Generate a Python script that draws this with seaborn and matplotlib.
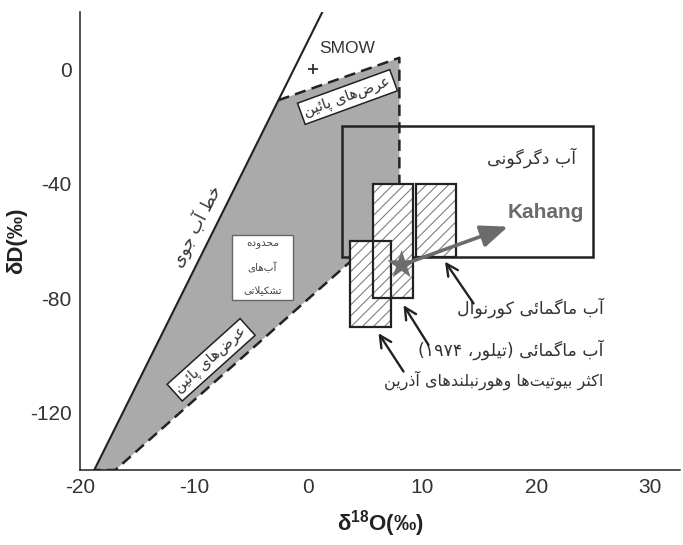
import re
import numpy as np
import pandas as pd
import seaborn as sns
import matplotlib.pyplot as plt
from matplotlib.patches import Rectangle, Polygon

# Meteoric water line (dD = 8 d18O + 10)
mwl_d18o = [-18.75, 1.25]
mwl_dd = [-140, 20]

# Formation-water field (grey area)
field_d18o = [-18.75, -2.6, 8.0, 8.0, -16.9]
field_dd = [-140, -10.8, 4.0, -52.0, -140]

# Boxes as [d18O min, d18O max, dD min, dD max]
metamorphic_box = [3.0, 25.0, -65.5, -20.0]
taylor_box = [5.7, 9.2, -80.0, -40.0]
cornwall_box = [9.5, 13.0, -65.5, -40.0]
biotite_box = [3.7, 7.3, -90.0, -60.0]
formation_box = [-6.7, -1.3, -80.6, -57.9]

# Points
kahang_d18o = [8.2]
kahang_dd = [-68.4]
smow_d18o = [0.4]
smow_dd = [0.0]

x_ticks = [-20, -10, 0, 10, 20, 30]
y_ticks = [-120, -80, -40, 0]

# Persian labels (logical order)
lbl_mwl = 'خط آب جوی'
lbl_lowlat = 'عرض\u200cهای پائین'
lbl_formation = ['محدوده', 'آب\u200cهای', 'تشکیلاتی']
lbl_metamorphic = 'آب دگرگونی'
lbl_cornwall = 'آب ماگمائی کورنوال'
lbl_taylor = 'آب ماگمائی (تیلور، ۱۹۷۴)'
lbl_biotite = 'اکثر بیوتیت\u200cها وهورنبلندهای آذرین'

# matplotlib has no Arabic shaping, so pick presentation forms by hand
# (isolated, final, initial, medial)
FORMS = {
    '\u0622': ('\uFE81', '\uFE82', None, None),
    '\u0627': ('\uFE8D', '\uFE8E', None, None),
    '\u0626': ('\uFE89', '\uFE8A', '\uFE8B', '\uFE8C'),
    '\u0628': ('\uFE8F', '\uFE90', '\uFE91', '\uFE92'),
    '\u067E': ('\uFB56', '\uFB57', '\uFB58', '\uFB59'),
    '\u062A': ('\uFE95', '\uFE96', '\uFE97', '\uFE98'),
    '\u062B': ('\uFE99', '\uFE9A', '\uFE9B', '\uFE9C'),
    '\u062C': ('\uFE9D', '\uFE9E', '\uFE9F', '\uFEA0'),
    '\u062D': ('\uFEA1', '\uFEA2', '\uFEA3', '\uFEA4'),
    '\u062E': ('\uFEA5', '\uFEA6', '\uFEA7', '\uFEA8'),
    '\u062F': ('\uFEA9', '\uFEAA', None, None),
    '\u0630': ('\uFEAB', '\uFEAC', None, None),
    '\u0631': ('\uFEAD', '\uFEAE', None, None),
    '\u0632': ('\uFEAF', '\uFEB0', None, None),
    '\u0633': ('\uFEB1', '\uFEB2', '\uFEB3', '\uFEB4'),
    '\u0634': ('\uFEB5', '\uFEB6', '\uFEB7', '\uFEB8'),
    '\u0636': ('\uFEBD', '\uFEBE', '\uFEBF', '\uFEC0'),
    '\u0637': ('\uFEC1', '\uFEC2', '\uFEC3', '\uFEC4'),
    '\u0639': ('\uFEC9', '\uFECA', '\uFECB', '\uFECC'),
    '\u06A9': ('\uFB8E', '\uFB8F', '\uFB90', '\uFB91'),
    '\u06AF': ('\uFB92', '\uFB93', '\uFB94', '\uFB95'),
    '\u0644': ('\uFEDD', '\uFEDE', '\uFEDF', '\uFEE0'),
    '\u0645': ('\uFEE1', '\uFEE2', '\uFEE3', '\uFEE4'),
    '\u0646': ('\uFEE5', '\uFEE6', '\uFEE7', '\uFEE8'),
    '\u0647': ('\uFEE9', '\uFEEA', '\uFEEB', '\uFEEC'),
    '\u0648': ('\uFEED', '\uFEEE', None, None),
    '\u06CC': ('\uFBFC', '\uFBFD', '\uFBFE', '\uFBFF'),
}


def links_forward(c):
    return c in FORMS and FORMS[c][2] is not None


def fa(text):
    out = []
    n = len(text)
    i = 0
    while i < n:
        c = text[i]
        if c not in FORMS:
            if c != '\u200c':
                out.append(c)
            i += 1
            continue
        prev_link = i > 0 and links_forward(text[i - 1])
        if c == '\u0644' and i + 1 < n and text[i + 1] in ('\u0627', '\u0622'):
            lig = ('\uFEFB', '\uFEFC') if text[i + 1] == '\u0627' else ('\uFEF5', '\uFEF6')
            out.append(lig[1] if prev_link else lig[0])
            i += 2
            continue
        next_link = links_forward(c) and i + 1 < n and text[i + 1] in FORMS
        iso, fin, ini, med = FORMS[c]
        if prev_link and next_link:
            out.append(med)
        elif prev_link:
            out.append(fin)
        elif next_link:
            out.append(ini)
        else:
            out.append(iso)
        i += 1
    vis = ''.join(out)[::-1]
    vis = re.sub('[\u06F0-\u06F90-9]+', lambda m: m.group(0)[::-1], vis)
    return vis.translate(str.maketrans('()', ')('))


sns.set_theme(style='white')
plt.rcParams['font.family'] = ['Liberation Sans', 'DejaVu Sans']
plt.rcParams['mathtext.fontset'] = 'custom'
plt.rcParams['mathtext.rm'] = 'Liberation Sans'
plt.rcParams['mathtext.bf'] = 'Liberation Sans:bold'
plt.rcParams['hatch.linewidth'] = 0.8
plt.rcParams['axes.unicode_minus'] = False

FA = 'DejaVu Sans'
dark = '#222222'

fig = plt.figure(figsize=(6.83, 5.45), dpi=100)
ax = fig.add_axes([0.1171, 0.1376, 0.8785, 0.8404])

# grey field + dashed borders
ax.add_patch(Polygon(list(zip(field_d18o, field_dd)), closed=True, fc='#aaaaaa', ec='none', zorder=1))
sns.lineplot(x=field_d18o[1:] + field_d18o[:1], y=field_dd[1:] + field_dd[:1], sort=False, estimator=None,
             color=dark, lw=1.8, linestyle=(0, (4.5, 2.5)), zorder=2, ax=ax)
sns.lineplot(x=mwl_d18o, y=mwl_dd, sort=False, estimator=None, color=dark, lw=1.5, zorder=2, ax=ax)

# metamorphic water box
x0, x1, y0, y1 = metamorphic_box
ax.add_patch(Rectangle((x0, y0), x1 - x0, y1 - y0, fill=False, ec=dark, lw=1.8, zorder=3))

# hatched magmatic boxes
for b in [taylor_box, cornwall_box, biotite_box]:
    x0, x1, y0, y1 = b
    ax.add_patch(Rectangle((x0, y0), x1 - x0, y1 - y0, fc='white', ec='#808080', hatch='///', lw=0, zorder=4))
for b in [taylor_box, cornwall_box, biotite_box]:
    x0, x1, y0, y1 = b
    ax.add_patch(Rectangle((x0, y0), x1 - x0, y1 - y0, fill=False, ec=dark, lw=1.6, zorder=5))

# formation waters label box
x0, x1, y0, y1 = formation_box
ax.add_patch(Rectangle((x0, y0), x1 - x0, y1 - y0, fc='white', ec='#666666', lw=1.0, zorder=3))
for txt, yy in zip(lbl_formation, [-61.0, -69.3, -77.2]):
    ax.text((x0 + x1) / 2, yy, fa(txt), ha='center', va='center', fontsize=7.5, color='#444444',
            family=FA, zorder=6)

# Kahang star + arrow
sns.scatterplot(x=kahang_d18o, y=kahang_dd, marker='*', s=480, color='#6e6e6e', edgecolor='none',
                zorder=7, ax=ax)
ax.annotate('Kahang', xy=(kahang_d18o[0], kahang_dd[0]), xytext=(17.5, -50.2), ha='left', va='center',
            fontsize=15, fontweight='bold', color='#6b6b6b', zorder=8,
            arrowprops=dict(arrowstyle='<|-,head_length=1.1,head_width=0.45', color='#6b6b6b', lw=2.6,
                            shrinkA=2, shrinkB=0))

# SMOW
sns.scatterplot(x=smow_d18o, y=smow_dd, marker='+', s=60, color='#333333', linewidth=1.3, ax=ax, zorder=6)
ax.text(3.4, 7.2, 'SMOW', ha='center', va='center', fontsize=12.5, color='#333333')

# Persian labels
ax.text(-9.8, -54.8, fa(lbl_mwl), rotation=63, ha='center', va='center', fontsize=12, color='#333333', family=FA)
box_kw = dict(boxstyle='square,pad=0.25', fc='white', ec=dark, lw=1.1)
ax.text(3.45, -9.7, fa(lbl_lowlat), rotation=20, ha='center', va='center', fontsize=10.5, color='#333333',
        family=FA, bbox=box_kw, zorder=6)
ax.text(-8.5, -101.5, fa(lbl_lowlat), rotation=42, ha='center', va='center', fontsize=10.5, color='#333333',
        family=FA, bbox=box_kw, zorder=6)
ax.text(19.6, -31.0, fa(lbl_metamorphic), ha='center', va='center', fontsize=12.5, color='#333333', family=FA)
ax.text(25.9, -83.2, fa(lbl_cornwall), ha='right', va='center', fontsize=12.5, color='#333333', family=FA)
ax.text(25.9, -98.0, fa(lbl_taylor), ha='right', va='center', fontsize=12.5, color='#333333', family=FA)
ax.text(25.9, -108.5, fa(lbl_biotite), ha='right', va='center', fontsize=11.5, color='#333333', family=FA)

arrow_kw = dict(arrowstyle='->,head_length=0.7,head_width=0.35', color=dark, lw=1.7, shrinkA=0, shrinkB=0)
ax.annotate('', xy=(12.0, -67.2), xytext=(14.5, -81.8), arrowprops=arrow_kw)
ax.annotate('', xy=(8.36, -82.4), xytext=(10.55, -96.3), arrowprops=arrow_kw)
ax.annotate('', xy=(6.17, -92.2), xytext=(8.36, -105.6), arrowprops=arrow_kw)

# axes
ax.set_xlim(-20, 32.6)
ax.set_ylim(-140, 20)
ax.set_xticks(x_ticks)
ax.set_yticks(y_ticks)
ax.tick_params(direction='in', length=8, width=1.2, color=dark, labelsize=15, labelcolor='#333333', pad=6)
for s in ['top', 'right']:
    ax.spines[s].set_visible(False)
for s in ['left', 'bottom']:
    ax.spines[s].set_color(dark)
    ax.spines[s].set_linewidth(1.1)
ax.set_xlabel('δ$^{\\mathbf{18}}$O(‰)', fontsize=16, fontweight='bold', color='#222222', labelpad=8)
ax.set_ylabel('δD(‰)', fontsize=16, fontweight='bold', color='#222222')
ax.yaxis.set_label_coords(-0.088, 0.5)

fig.savefig('out.png', dpi=100)
